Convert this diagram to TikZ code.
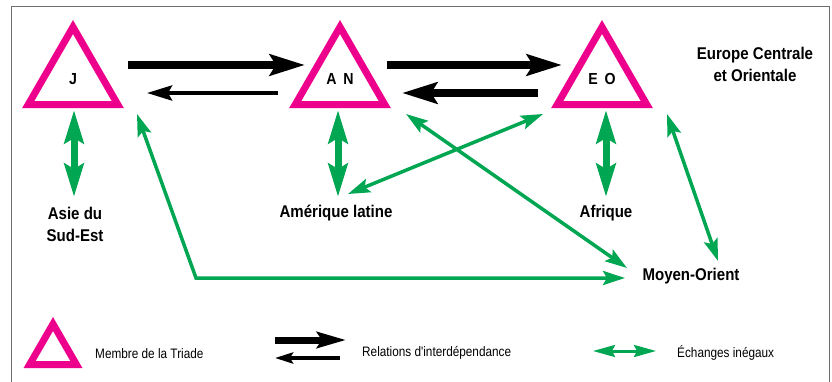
\documentclass[tikz,border=0pt]{standalone}
\usepackage{fontspec}
\newfontfamily\hvb[FakeStretch=0.885]{Liberation Sans}
\newfontfamily\hvn[FakeStretch=0.86]{Liberation Sans}
\usetikzlibrary{arrows.meta,shapes.geometric}
\definecolor{triMag}{HTML}{EC008C}
\definecolor{exGreen}{HTML}{00A651}
\definecolor{frameGray}{HTML}{6E6E6E}
\begin{document}
\begin{tikzpicture}[x=1pt,y=-1pt,
  triad/.style={regular polygon,regular polygon sides=3,draw=triMag,line width=7pt,
    inner sep=0pt,outer sep=0pt,minimum size=103.4pt,
    font=\hvb\bfseries\fontsize{16}{18}\selectfont},
  lab/.style={font=\hvb\bfseries\fontsize{17}{22}\selectfont,align=center,inner sep=0pt},
  leg/.style={font=\hvn\fontsize{13.7}{15}\selectfont,inner sep=0pt},
  bthick/.style={draw=black,line width=8pt,-{Stealth[length=35pt,width=21pt,inset=6pt]}},
  bthin/.style={draw=black,line width=4pt,-{Stealth[length=25pt,width=15pt,inset=4pt]}},
  gthick/.style={draw=exGreen,line width=7pt,{Stealth[length=33pt,width=19pt,inset=5pt]}-{Stealth[length=33pt,width=19pt,inset=5pt]}},
  gthin/.style={draw=exGreen,line width=3.5pt,{Stealth[length=22pt,width=14pt,inset=4pt]}-{Stealth[length=22pt,width=14pt,inset=4pt]}},
  lbthick/.style={draw=black,line width=7pt,-{Stealth[length=29pt,width=16pt,inset=5pt]}},
  lbthin/.style={draw=black,line width=4pt,-{Stealth[length=18pt,width=11pt,inset=3pt]}},
  lgthin/.style={draw=exGreen,line width=3pt,{Stealth[length=22pt,width=12pt,inset=3pt]}-{Stealth[length=22pt,width=12pt,inset=3pt]}}
]
\useasboundingbox (0,0) rectangle (832,382);
% frame
\draw[frameGray,line width=1pt] (11,384) -- (11,7) -- (829,7) -- (829,384);

% triad members
\node[triad] (J) at (73,78.7) {J};
\node[triad] (AN) at (340,78.7) {A~\,N};
\node[triad] (EO) at (602,78.7) {E~\,O};

% regions
\node[lab] (EC) at (755,64) {Europe Centrale\\et Orientale};
\node[lab] (ASE) at (75,224) {Asie du\\Sud-Est};
\node[lab] (AL) at (336,213) {Amérique latine};
\node[lab] (AF) at (606,213) {Afrique};
\node[lab] (MO) at (691,276) {Moyen-Orient};

% interdependence arrows
\coordinate (J1) at (128,65);  \coordinate (AN1) at (305,65);
\coordinate (AN2) at (278,93); \coordinate (J2) at (147,93);
\coordinate (AN3) at (387,65); \coordinate (EO3) at (562,65);
\coordinate (EO4) at (538,93); \coordinate (AN4) at (402,93);
\draw[bthick] (J1) -- (AN1);
\draw[bthin] (AN2) -- (J2);
\draw[bthick] (AN3) -- (EO3);
\draw[bthick] (EO4) -- (AN4);

% unequal exchanges
\coordinate (J5) at (74,110);   \coordinate (ASE5) at (74,197);
\coordinate (AN5) at (338,110); \coordinate (AL5) at (338,197);
\coordinate (EO5) at (606,110); \coordinate (AF5) at (606,197);
\draw[gthick] (J5) -- (ASE5);
\draw[gthick] (AN5) -- (AL5);
\draw[gthick] (EO5) -- (AF5);

\coordinate (AL6) at (348,194); \coordinate (EO6) at (543,114);
\coordinate (AN7) at (406,114); \coordinate (MO7) at (627,268);
\coordinate (EO8) at (667,114); \coordinate (MO8) at (718,261);
\coordinate (J9) at (137,114);  \coordinate (K9) at (196,278); \coordinate (MO9) at (625,278);
\draw[gthin] (AL6) -- (EO6);
\draw[gthin] (AN7) -- (MO7);
\draw[gthin] (EO8) -- (MO8);
\draw[gthin] (J9) -- (K9) -- (MO9);

% legend
\node[triad,minimum size=54pt] (LT) at (53,351) {};
\node[leg,anchor=west] (LTt) at (95,354) {Membre de la Triade};
\coordinate (L1a) at (275,340); \coordinate (L1b) at (346,340);
\coordinate (L2a) at (340,358); \coordinate (L2b) at (275,358);
\draw[lbthick] (L1a) -- (L1b);
\draw[lbthin] (L2a) -- (L2b);
\node[leg,anchor=west] (LRt) at (362,353) {Relations d'interdépendance};
\coordinate (L3a) at (593,351); \coordinate (L3b) at (656,351);
\draw[lgthin] (L3a) -- (L3b);
\node[leg,anchor=west] (LEt) at (677,353) {Échanges inégaux};
\end{tikzpicture}
\end{document}
